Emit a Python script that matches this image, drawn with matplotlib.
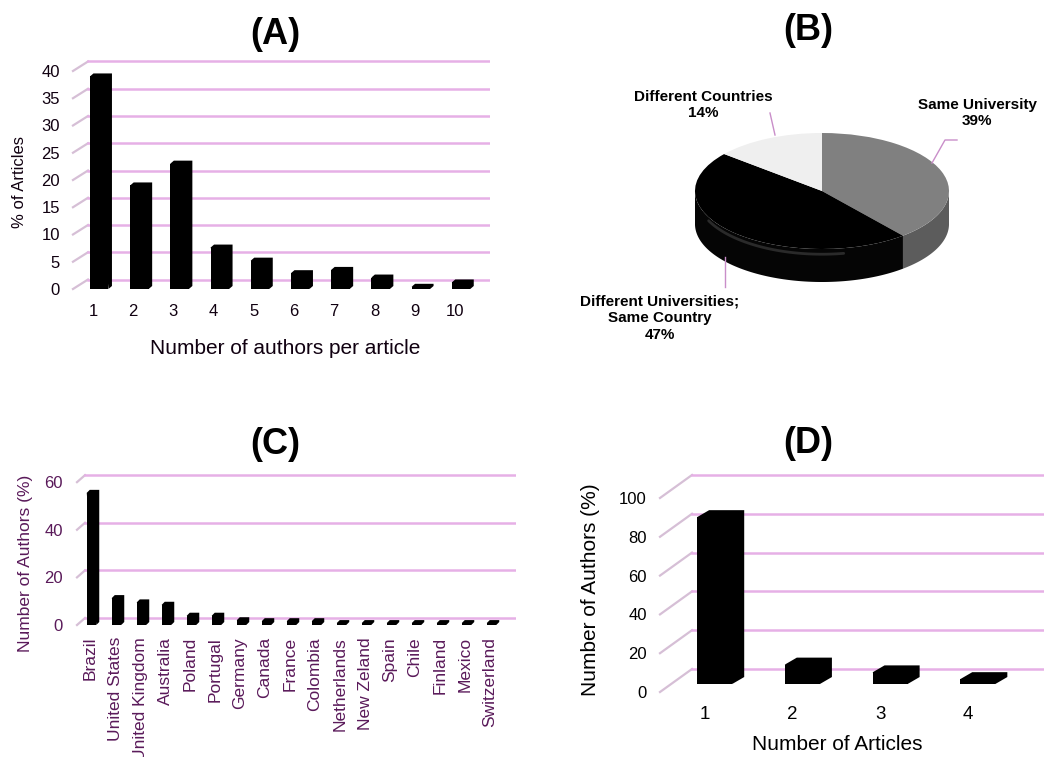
import numpy as np
import matplotlib.pyplot as plt
from matplotlib.lines import Line2D

plt.rcParams['font.family'] = ['Liberation Sans', 'DejaVu Sans']

# ---- data ----
a_authors = [1, 2, 3, 4, 5, 6, 7, 8, 9, 10]
a_pct = [39, 19, 23, 7.6, 5.2, 2.9, 3.5, 2.1, 0.4, 1.2]
a_ticks = [0, 5, 10, 15, 20, 25, 30, 35, 40]

b_labels = ['Same University\n39%', 'Different Universities;\nSame Country\n47%',
            'Different Countries\n14%']
b_shares = [39, 47, 14]
b_top = ['#808080', '#000000', '#efefef']
b_side = ['#5c5c5c', '#050505', '#d8d8d8']

c_countries = ['Brazil', 'United States', 'United Kingdom', 'Australia', 'Poland',
               'Portugal', 'Germany', 'Canada', 'France', 'Colombia', 'Netherlands',
               'New Zeland', 'Spain', 'Chile', 'Finland', 'Mexico', 'Switzerland']
c_pct = [55.5, 11.3, 9.5, 8.5, 3.9, 3.9, 2.0, 1.6, 1.6, 1.6, 0.8, 0.8, 0.8, 0.8, 0.8, 0.8, 0.8]
c_ticks = [0, 20, 40, 60]

d_articles = [1, 2, 3, 4]
d_pct = [86, 10, 6, 2.5]
d_ticks = [0, 20, 40, 60, 80, 100]

W, H = 1044, 757
fig = plt.figure(figsize=(W / 100, H / 100), dpi=100)
GRID = '#e6b0e6'
STUB = '#d6bfd6'
PURPLE = '#5a1a5a'


def box(l, t, r, b):
    return fig.add_axes([l / W, 1 - b / H, (r - l) / W, (b - t) / H])


def bar_panel(ax, xs, vals, ticks, xlim, ylim, stub, gdy, left, width, bdx, bdy, base):
    ax.set_xlim(xlim)
    ax.set_ylim(ylim)
    for s in ax.spines.values():
        s.set_visible(False)
    for t in ticks:
        ax.plot(stub, [t, t + gdy], color=STUB, lw=1.6, zorder=1)
        ax.plot([stub[1], xlim[1]], [t + gdy, t + gdy], color=GRID, lw=1.8, zorder=1)
    ax.bar([x + left for x in xs], vals, width=width, bottom=base, align='edge',
           color='black', zorder=3)
    for x, v in zip(xs, vals):
        x0 = x + left
        x1 = x0 + width
        ax.fill([x0, x0 + bdx, x1 + bdx, x1 + bdx, x1],
                [base + v, base + v + bdy, base + v + bdy, base + bdy, base],
                color='black', lw=0, zorder=3)
    ax.set_yticks(ticks)
    ax.set_xticks(xs)


# ---- (A) ----
ax = box(64, 50, 490, 300)
bar_panel(ax, a_authors, a_pct, a_ticks, (0.279, 10.876), (-2.02, 43.85),
          (0.5025, 0.876), 1.74, -0.075, 0.46, 0.087, 0.55, 0)
ax.tick_params(length=0, labelsize=12, colors='#100010')
ax.tick_params(axis='y', pad=2.9)
ax.tick_params(axis='x', pad=2.9)
ax.set_xlabel('Number of authors per article', fontsize=15, color='#100010')
ax.xaxis.set_label_coords(0.519, -0.155)
ax.set_ylabel('% of Articles', fontsize=12, color='#100010')
ax.yaxis.set_label_coords(-0.087, 0.472)
fig.text(275 / W, 1 - 35 / H, '(A)', fontsize=26, fontweight='bold', ha='center', va='center')

# ---- (B) ----
cx, cy, rx, ry, depth = 822, 191, 127, 58, 33
axb = box(540, 60, 1044, 360)
wedges, _ = axb.pie(b_shares, colors=b_top, startangle=90, counterclock=False,
                    radius=1, wedgeprops=dict(linewidth=0))
axb.set_aspect('auto')
axb.set_xlim((540 - cx) / rx, (1044 - cx) / rx)
axb.set_ylim(-(360 - cy) / ry, (cy - 60) / ry)
dd = depth / ry
for w, col in zip(wedges, b_side):
    t = np.radians(np.linspace(w.theta1, w.theta2, 300))
    t = t[np.sin(t) <= 0]
    if len(t) < 2:
        continue
    xs = np.concatenate([np.cos(t), np.cos(t[::-1])])
    ys = np.concatenate([np.sin(t), np.sin(t[::-1]) - dd])
    axb.fill(xs, ys, color=col, lw=0, zorder=0)
for w in wedges:
    w.set_zorder(2)
# soft sheen on the dark side wall, just under the rim
ts = np.radians(np.linspace(205, 280, 80))
axb.plot(np.cos(ts) * 0.985, np.sin(ts) - 0.09, color='#2a2a2a', lw=2,
         solid_capstyle='round', zorder=1)

lab_pos = [(977, 113), (660, 318), (703, 105)]
for txt, (px, py) in zip(b_labels, lab_pos):
    fig.text(px / W, 1 - py / H, txt, fontsize=11, fontweight='bold', ha='center',
             va='center', linespacing=1.25)
LEAD = '#c98ec9'
for pts in [[(957, 140), (945, 140), (932, 163)], [(770, 113), (775, 135)],
            [(725, 257), (725, 287)]]:
    fig.add_artist(Line2D([p[0] / W for p in pts], [1 - p[1] / H for p in pts],
                          color=LEAD, lw=1))
fig.text(808 / W, 1 - 30 / H, '(B)', fontsize=26, fontweight='bold', ha='center', va='center')

# ---- (C) ----
axc = box(70, 470, 516, 632)
cx_pos = list(range(len(c_countries)))
bar_panel(axc, cx_pos, c_pct, c_ticks, (-0.8, 17.04), (-2.94, 65.1),
          (-0.52, -0.2), 2.94, -0.13, 0.38, 0.12, 1.26, 0)
axc.set_xticklabels(c_countries, rotation=90)
axc.tick_params(length=0, colors=PURPLE)
axc.tick_params(axis='y', pad=5, labelsize=12)
axc.tick_params(axis='x', pad=3.6, labelsize=12.5)
axc.set_ylabel('Number of Authors (%)', fontsize=12.5, color=PURPLE)
axc.yaxis.set_label_coords(-0.083, 0.426)
fig.text(275 / W, 1 - 445 / H, '(C)', fontsize=26, fontweight='bold', ha='center', va='center')

# ---- (D) ----
axd = box(655, 465, 1044, 700)
bar_panel(axd, d_articles, d_pct, d_ticks, (0.43, 4.865), (-4.12, 117.0),
          (0.487, 0.852), 11.86, -0.09, 0.40, 0.137, 3.6, 4.12)
axd.tick_params(length=0, colors='black')
axd.tick_params(axis='y', pad=5.8, labelsize=12)
axd.tick_params(axis='x', pad=4.3, labelsize=13.5)
axd.set_xlabel('Number of Articles', fontsize=15)
axd.xaxis.set_label_coords(0.468, -0.149)
axd.set_ylabel('Number of Authors (%)', fontsize=15)
axd.yaxis.set_label_coords(-0.141, 0.468)
fig.text(808 / W, 1 - 443 / H, '(D)', fontsize=26, fontweight='bold', ha='center', va='center')

fig.savefig('out.png', dpi=100)
